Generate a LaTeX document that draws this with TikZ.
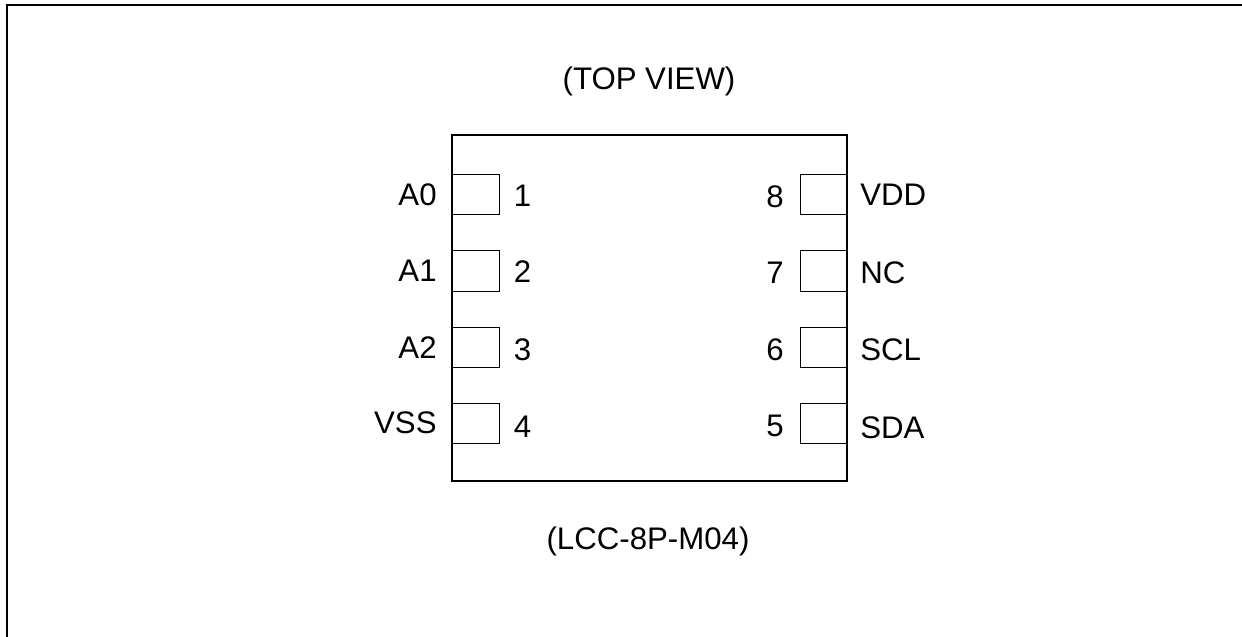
\documentclass[tikz,border=0pt]{standalone}
\usepackage{fontspec}
\setsansfont{Liberation Sans}
\usetikzlibrary{positioning}

\begin{document}
\begin{tikzpicture}[
    x=0.5pt, y=-0.5pt,
    font=\sffamily\fontsize{15.6}{18}\selectfont,
    % --- styles ---
    % package body
    chip/.style={draw, line width=1pt, minimum width=197.5pt, minimum height=173pt, inner sep=0pt},
    % contact pads
    padbox/.style={draw, line width=0.5pt, minimum width=23.5pt, minimum height=20.25pt, inner sep=0pt},
    % signal names and pin numbers
    signame/.style={inner sep=0pt},
    pinnum/.style={inner sep=0pt, anchor=base},
    caption/.style={inner sep=0pt, anchor=base}
]
\useasboundingbox (0,0) rectangle (1242,637);

% --- 1. Outer frame ---
\coordinate (FrameBL) at (7,637);
\coordinate (FrameTL) at (7,5);
\coordinate (FrameTR) at (1242,5);
\draw[line width=1pt] (FrameBL) -- (FrameTL) -- (FrameTR);

% --- 2. Pads ---
\node[padbox] (Pad1) at (475.5,194.5) {};
\node[padbox] (Pad2) at (475.5,271) {};
\node[padbox] (Pad3) at (475.5,347.5) {};
\node[padbox] (Pad4) at (475.5,423.5) {};
\node[padbox] (Pad8) at (823.5,194.5) {};
\node[padbox] (Pad7) at (823.5,271) {};
\node[padbox] (Pad6) at (823.5,347.5) {};
\node[padbox] (Pad5) at (823.5,423.5) {};

% --- 3. Package body ---
\node[chip] (Chip) at (649.5,308) {};

% --- 4. Signal names ---
\node[signame, anchor=base east] (SigA0) at (437,205) {A0};
\node[signame, anchor=base east] (SigA1) at (437,281) {A1};
\node[signame, anchor=base east] (SigA2) at (437,358) {A2};
\node[signame, anchor=base east] (SigVSS) at (437,433) {VSS};
\node[signame, anchor=base west] (SigVDD) at (860,205) {VDD};
\node[signame, anchor=base west] (SigNC) at (860,283) {NC};
\node[signame, anchor=base west] (SigSCL) at (860,360) {SCL};
\node[signame, anchor=base west] (SigSDA) at (860,438) {SDA};

% --- 5. Pin numbers ---
\node[pinnum] (Num1) at (522.5,206) {1};
\node[pinnum] (Num2) at (522.5,282) {2};
\node[pinnum] (Num3) at (522.5,360) {3};
\node[pinnum] (Num4) at (522.5,437) {4};
\node[pinnum] (Num8) at (775,207) {8};
\node[pinnum] (Num7) at (775,283) {7};
\node[pinnum] (Num6) at (775,360) {6};
\node[pinnum] (Num5) at (775,436) {5};

% --- 6. Captions ---
\node[caption] (TopView) at (649,89) {(TOP VIEW)};
\node[caption] (PkgName) at (648,549) {(LCC-8P-M04)};

\end{tikzpicture}
\end{document}
